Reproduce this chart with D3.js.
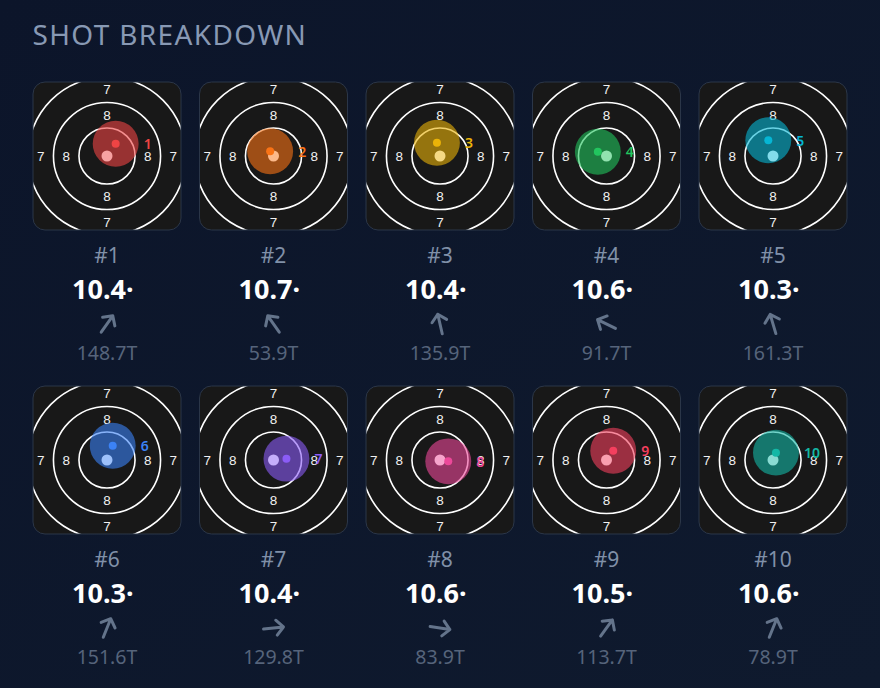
<!DOCTYPE html>
<html lang="en">
<head>
<meta charset="UTF-8">
<title>Shot Breakdown</title>
<script src="https://d3js.org/d3.v7.min.js"></script>
<style>
  html, body { margin:0; padding:0; background:#0d162a; }
  svg { display:block; }
  text { font-family:"Noto Sans", sans-serif; }
  .ringLabel { font-family:"Liberation Sans", sans-serif; font-size:13.5px; fill:#f1f1f1; text-anchor:middle; dominant-baseline:central; }
  .title { font-size:28px; fill:#8899b4; letter-spacing:1.35px; }
  .num { font-size:21px; fill:#8090a8; text-anchor:middle; }
  .score { font-size:27px; font-weight:700; fill:#fff; }
  .dist { font-size:19.5px; fill:#56647b; text-anchor:middle; }
  .arrow { fill:none; stroke:#64748b; stroke-width:3; stroke-linecap:round; stroke-linejoin:round; }
</style>
</head>
<body>
<script>
  // shot values, offsets are mm from centre, dy up
  var shots  = [1, 2, 3, 4, 5, 6, 7, 8, 9, 10];
  var scores = [10.4, 10.7, 10.4, 10.6, 10.3, 10.3, 10.4, 10.6, 10.5, 10.6];
  var dists  = [148.7, 53.9, 135.9, 91.7, 161.3, 151.6, 129.8, 83.9, 113.7, 78.9];
  var dx     = [0.85, -0.33, -0.30, -0.85, -0.46, 0.56, 1.27, 0.81, 0.66, 0.29];
  var dy     = [1.20, 0.47, 1.30, 0.42, 1.54, 1.40, 0.13, -0.13, 0.91, 0.72];
  var colors = ["#ef4444","#f97316","#eab308","#22c55e","#06b6d4","#3b82f6","#8b5cf6","#ec4899","#f43f5e","#14b8a6"];

  // 10m air rifle target
  var ringRadii = [2.75, 5.25, 7.75];
  var ringLabels = [{r:4, t:"8"}, {r:6.5, t:"7"}];
  var pelletRadius = 2.25;

  var width = 880, height = 688, card = 148;

  var svg = d3.select("body").append("svg")
      .attr("width", width)
      .attr("height", height);

  var grad = svg.append("defs").append("linearGradient")
      .attr("id", "bg").attr("x1", 0).attr("y1", 0).attr("x2", 1).attr("y2", 1);
  grad.append("stop").attr("offset", 0).attr("stop-color", "#0c152a");
  grad.append("stop").attr("offset", 1).attr("stop-color", "#0f1a2e");
  svg.append("rect").attr("width", width).attr("height", height).attr("fill", "url(#bg)");

  svg.append("text").attr("class", "title").attr("x", 32.5).attr("y", 45).text("SHOT BREAKDOWN");

  var colX = d3.scalePoint().domain([0, 1, 2, 3, 4]).range([107, 773]);
  var rowY = d3.scalePoint().domain([0, 1]).range([156, 460]);

  // mm to px, same scale for both directions
  var x = d3.scaleLinear().domain([-card / 2 / 10.2, card / 2 / 10.2]).range([-card / 2, card / 2]);
  var y = d3.scaleLinear().domain([-card / 2 / 10.2, card / 2 / 10.2]).range([card / 2, -card / 2]);
  var r = function(v) { return x(v) - x(0); };

  var arrowLine = d3.line();

  shots.forEach(function(n, i) {
    var g = svg.append("g")
        .attr("transform", "translate(" + colX(i % 5) + "," + rowY(Math.floor(i / 5)) + ")");

    g.append("clipPath").attr("id", "clip" + n)
      .append("rect")
        .attr("x", -card / 2).attr("y", -card / 2)
        .attr("width", card).attr("height", card).attr("rx", 12);

    g.append("rect")
        .attr("x", -card / 2).attr("y", -card / 2)
        .attr("width", card).attr("height", card).attr("rx", 12)
        .attr("fill", "#181818");

    var t = g.append("g").attr("clip-path", "url(#clip" + n + ")").attr("opacity", 0.999);

    t.selectAll("circle.ring").data(ringRadii).enter().append("circle")
        .attr("class", "ring")
        .attr("r", function(d) { return r(d); })
        .attr("fill", "none").attr("stroke", "#fff").attr("stroke-width", 1.6);

    ringLabels.forEach(function(l) {
      [[0, -1], [0, 1], [-1, 0], [1, 0]].forEach(function(p) {
        t.append("text").attr("class", "ringLabel")
            .attr("x", r(l.r) * p[0]).attr("y", r(l.r) * p[1])
            .text(l.t);
      });
    });

    t.append("circle")
        .attr("cx", x(dx[i])).attr("cy", y(dy[i])).attr("r", r(pelletRadius))
        .attr("fill", colors[i]).attr("fill-opacity", 0.6);
    t.append("circle")
        .attr("r", 5.5).attr("fill", d3.interpolateRgb(colors[i], "#fff")(0.5));
    t.append("circle")
        .attr("cx", x(dx[i])).attr("cy", y(dy[i])).attr("r", 4)
        .attr("fill", colors[i]);
    t.append("text")
        .attr("x", x(dx[i]) + 28).attr("y", y(dy[i]))
        .attr("dominant-baseline", "central")
        .attr("font-size", 14).attr("font-weight", 600)
        .attr("fill", colors[i])
        .text(n);

    // card border goes over the rings
    g.append("rect")
        .attr("x", -card / 2).attr("y", -card / 2)
        .attr("width", card).attr("height", card).attr("rx", 12)
        .attr("fill", "none").attr("stroke", "#2b3648").attr("stroke-width", 1);

    g.append("text").attr("class", "num").attr("y", 106.5).text("#" + n);
    g.append("text").attr("class", "score").attr("x", -35).attr("y", 143).text(d3.format(".1f")(scores[i]) + "·");

    var angle = Math.atan2(dx[i], dy[i]) * 180 / Math.PI;
    g.append("g")
        .attr("transform", "translate(0,168) rotate(" + angle + ")")
      .append("path").attr("class", "arrow")
        .attr("d", arrowLine([[0, 10], [0, -10]]) + arrowLine([[-7.5, -3], [0, -10], [7.5, -3]]));

    g.append("text").attr("class", "dist").attr("y", 204).text(d3.format(".1f")(dists[i]) + "T");
  });
</script>
</body>
</html>
